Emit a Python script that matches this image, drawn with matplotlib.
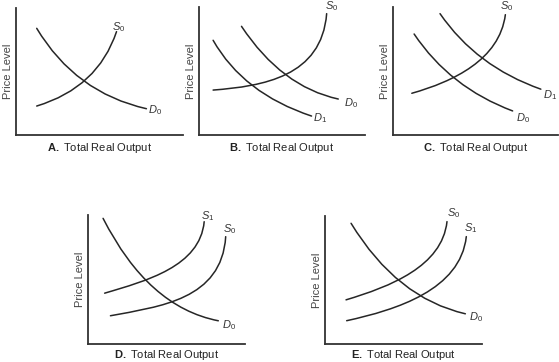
import matplotlib
matplotlib.use("Agg")
import matplotlib.pyplot as plt
from matplotlib.path import Path
from matplotlib.patches import PathPatch

plt.rcParams["font.family"] = ["Liberation Sans", "DejaVu Sans"]
plt.rcParams["mathtext.fontset"] = "custom"
plt.rcParams["mathtext.rm"] = "Liberation Sans"
plt.rcParams["mathtext.it"] = "Liberation Sans:italic"
plt.rcParams["mathtext.bf"] = "Liberation Sans:bold"

# curves as bezier control points (total real output, price level), 0-10 scale
a_s0 = [(1.24, 2.28), (4.90, 3.73), (6.02, 8.14)]
a_d0 = [(1.24, 8.40), (3.55, 3.33), (7.81, 2.07)]

b_s0 = [(0.85, 3.51), (3.86, 3.82), (7.38, 4.55), (7.69, 9.48)]
b_d0 = [(2.56, 8.49), (4.97, 3.77), (8.39, 2.81)]
b_d1 = [(0.85, 7.40), (2.66, 3.25), (6.78, 1.48)]

c_s0 = [(1.14, 3.26), (3.65, 4.18), (6.45, 5.87), (6.81, 9.40)]
c_d1 = [(2.85, 9.48), (5.05, 5.35), (8.96, 3.58)]
c_d0 = [(1.28, 7.89), (3.45, 3.71), (7.25, 1.88)]

d_d0 = [(0.96, 9.74), (3.83, 2.86), (8.30, 1.80)]
d_s1 = [(1.06, 3.94), (3.72, 4.90), (7.13, 6.01), (7.40, 9.48)]
d_s0 = [(1.43, 2.19), (4.57, 2.91), (8.51, 3.43), (8.77, 8.32)]

e_d0 = [(1.66, 9.43), (4.57, 3.58), (8.94, 2.36)]
e_s0 = [(1.34, 3.45), (4.15, 4.49), (7.45, 6.05), (7.77, 9.56)]
e_s1 = [(1.38, 1.82), (4.57, 2.68), (8.62, 4.23), (9.00, 8.39)]

panel_letters = ["A", "B", "C", "D", "E"]
x_title = "Total Real Output"
y_title = "Price Level"

panel_curves = {
    "A": [(a_s0, "S_0"), (a_d0, "D_0")],
    "B": [(b_s0, "S_0"), (b_d0, "D_0"), (b_d1, "D_1")],
    "C": [(c_s0, "S_0"), (c_d1, "D_1"), (c_d0, "D_0")],
    "D": [(d_d0, "D_0"), (d_s1, "S_1"), (d_s0, "S_0")],
    "E": [(e_d0, "D_0"), (e_s0, "S_0"), (e_s1, "S_1")],
}

# where each curve name sits
label_pos = {
    "A": [(6.12, 8.53), (8.31, 1.97)],
    "B": [(7.99, 10.05), (9.13, 2.47), (7.32, 1.30)],
    "C": [(6.89, 10.05), (9.50, 3.08), (7.90, 1.31)],
    "D": [(9.00, 1.49), (7.60, 9.92), (9.00, 8.89)],
    "E": [(9.62, 2.10), (8.19, 10.21), (9.30, 9.09)],
}

# axes boxes in pixels: left, top, right, bottom
W, H = 559, 362
boxes = {
    "A": (16, 8, 183, 135),
    "B": (199, 7, 365, 135),
    "C": (393, 7, 558, 135),
    "D": (88, 215, 245, 344),
    "E": (325, 216, 482, 344),
}

ink = "#262626"

fig = plt.figure(figsize=(W / 100, H / 100), dpi=100)

for letter in panel_letters:
    l, t, r, b = boxes[letter]
    ax = fig.add_axes([l / W, 1 - b / H, (r - l) / W, (b - t) / H])
    ax.set_xlim(0, 10)
    ax.set_ylim(0, 10)
    ax.set_xticks([])
    ax.set_yticks([])
    for side in ["top", "right"]:
        ax.spines[side].set_visible(False)
    for side in ["left", "bottom"]:
        ax.spines[side].set_color("#333333")
        ax.spines[side].set_linewidth(1.3)

    for (pts, name), pos in zip(panel_curves[letter], label_pos[letter]):
        if len(pts) == 3:
            codes = [Path.MOVETO, Path.CURVE3, Path.CURVE3]
        else:
            codes = [Path.MOVETO, Path.CURVE4, Path.CURVE4, Path.CURVE4]
        patch = PathPatch(Path(pts, codes), facecolor="none", edgecolor=ink,
                          linewidth=1.1, capstyle="round")
        ax.add_patch(patch)
        ax.text(pos[0], pos[1], "$" + name + "$", fontsize=8, color="#333333",
                ha="center", va="center", clip_on=False)

    # bottom row sits close to the figure edge
    pad = 4.5 if b < 200 else 3
    ax.set_xlabel(r"$\mathbf{" + letter + ".}$ " + x_title, fontsize=8,
                  color="#222222", labelpad=pad)
    ax.set_ylabel(y_title, fontsize=8, color="#444444", labelpad=2)

fig.savefig("out.png", dpi=100, facecolor="white")
